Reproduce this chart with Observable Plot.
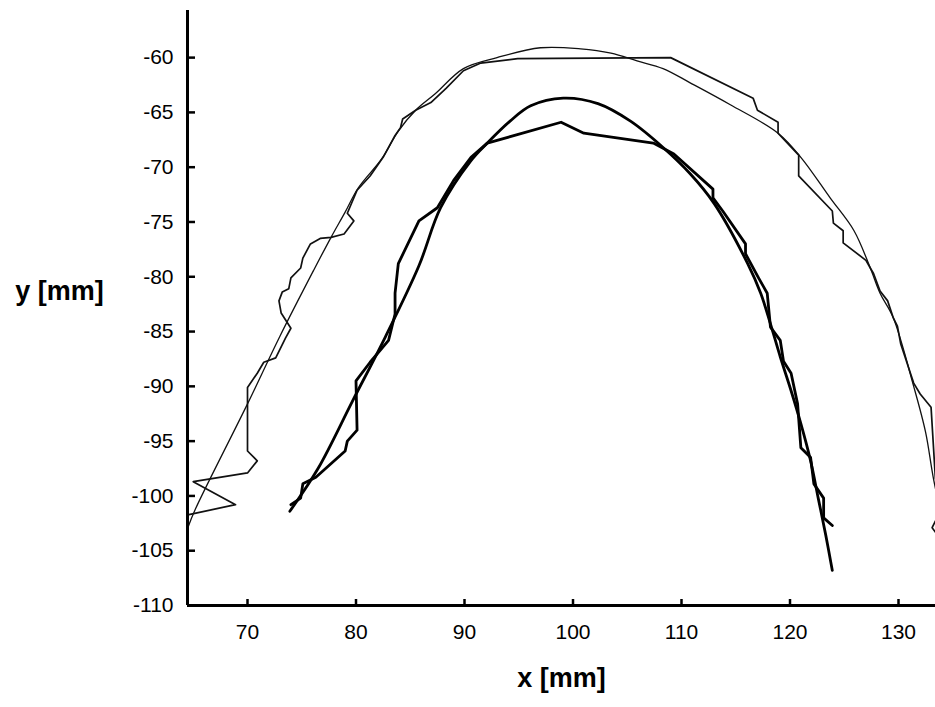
<!DOCTYPE html>
<html>
<head>
<meta charset="utf-8">
<script src="https://cdn.jsdelivr.net/npm/d3@7"></script>
<script src="https://cdn.jsdelivr.net/npm/@observablehq/plot@0.6"></script>
<style>
  html, body { margin: 0; padding: 0; background: #fff; }
  #chart svg { display: block; }
</style>
</head>
<body>
<div id="chart"></div>
<script>
// Axis ticks and extents (mm)
const xTicks = [70, 80, 90, 100, 110, 120, 130];
const yTicks = [-60, -65, -70, -75, -80, -85, -90, -95, -100, -105, -110];
const xDomain = [64.47, 133.41];
const yDomain = [-110, -55.7];
const xLabel = "x [mm]";
const yLabel = "y [mm]";

// Outer arch: fitted curve (thin, smooth)
const outerFit = [
  [64.5,-102.9],[65.2,-101.2],[70.0,-91.6],[73.0,-85.4],[76.1,-79.4],[77.7,-76.4],
  [79.0,-74.1],[80.2,-71.9],[82.4,-69.2],[83.9,-66.7],[85.5,-64.8],[87.3,-63.3],
  [89.9,-61.0],[93.0,-60.0],[97.0,-59.1],[100.7,-59.2],[103.5,-59.6],[105.9,-60.3],
  [108.3,-61.0],[110.8,-62.3],[114.5,-64.3],[118.9,-66.9],[121.0,-69.1],[123.7,-72.8],
  [125.9,-75.8],[127.4,-79.2],[128.3,-81.5],[129.5,-83.7],[131.4,-90.0],[132.5,-94.2],
  [133.2,-98.3],[134.2,-103.0]
];

// Outer arch: measured trajectory (jagged)
const outerMeasured = [
  [64.6,-101.7],[68.9,-100.8],[65.0,-98.7],[70.0,-97.9],[70.9,-96.8],[70.0,-95.9],
  [70.0,-90.1],[70.9,-88.8],[71.5,-87.8],[72.6,-87.4],[73.5,-85.6],[74.0,-84.7],
  [73.1,-83.3],[72.9,-82.2],[73.2,-81.4],[73.8,-81.1],[74.0,-80.1],[74.9,-79.2],
  [75.1,-78.3],[75.8,-77.0],[76.7,-76.5],[77.7,-76.4],[78.9,-76.1],[79.8,-74.9],
  [79.2,-74.2],[80.1,-72.1],[81.3,-70.8],[82.5,-69.1],[83.6,-67.1],[84.1,-66.4],
  [84.3,-65.6],[85.5,-64.8],[86.9,-64.1],[88.3,-62.8],[89.9,-61.2],[91.5,-60.5],
  [94.9,-60.1],[109.0,-60.0],[116.6,-63.7],[117.0,-64.8],[118.9,-65.9],[118.9,-66.9],
  [120.8,-68.9],[120.8,-70.8],[123.9,-74.0],[124.0,-75.1],[124.9,-75.8],[124.9,-76.9],
  [127.0,-78.5],[127.4,-79.2],[127.7,-79.7],[128.3,-81.3],[129.0,-82.2],[129.5,-83.7],
  [129.9,-84.5],[130.2,-86.1],[131.1,-88.8],[131.4,-89.7],[132.0,-90.7],[133.0,-91.9],
  [133.4,-98.4],[134.3,-100.5],[133.1,-102.9],[134.3,-104.5]
];

// Inner arch: fitted curve (thick, smooth)
const innerFit = [
  [73.9,-101.4],[76.5,-97.5],[79.7,-91.3],[82.7,-85.5],[85.8,-79.0],[87.8,-73.7],
  [90.6,-69.4],[92.1,-67.8],[94.2,-65.8],[96.1,-64.4],[99.1,-63.7],[102.3,-64.2],
  [105.3,-65.8],[108.3,-68.2],[110.8,-70.6],[113.0,-73.3],[116.1,-78.8],[117.3,-81.5],
  [118.2,-84.3],[119.1,-87.3],[120.1,-90.4],[121.0,-93.4],[121.9,-96.8],[122.6,-100.2],
  [123.3,-103.6],[123.9,-106.8]
];

// Inner arch: measured trajectory (thick, jagged)
const innerMeasured = [
  [74.0,-100.8],[74.9,-100.2],[75.1,-98.9],[76.3,-98.3],[79.0,-95.9],[79.2,-95.0],
  [80.1,-94.0],[80.0,-89.5],[81.3,-87.8],[83.0,-85.8],[83.6,-83.4],[83.6,-81.5],
  [83.9,-78.8],[85.8,-74.9],[87.5,-73.7],[89.0,-71.2],[90.6,-69.1],[92.1,-67.8],
  [98.9,-65.9],[101.0,-66.9],[107.4,-67.8],[109.3,-68.8],[112.9,-72.0],[112.9,-72.8],
  [113.8,-74.0],[115.9,-77.0],[115.9,-77.9],[117.1,-80.1],[117.9,-81.5],[118.2,-84.6],
  [119.1,-85.8],[119.4,-87.7],[120.1,-88.8],[120.7,-91.6],[121.0,-95.6],[121.9,-96.5],
  [122.2,-98.9],[123.1,-100.2],[123.1,-102.0],[123.9,-102.7]
];

const font = "'Liberation Sans', Arial, Helvetica, sans-serif";
const px = d => d[0], py = d => d[1];
const W = 935, H = 707, ML = 187, MR = 0, MT = 10, MB = 102;
// inward tick lengths, converted from pixels to data units
const yTickLen = 8 * (xDomain[1] - xDomain[0]) / (W - ML - MR);
const xTickLen = 6 * (yDomain[1] - yDomain[0]) / (H - MT - MB);

const chart = Plot.plot({
  width: W,
  height: H,
  marginLeft: ML,
  marginRight: MR,
  marginTop: MT,
  marginBottom: MB,
  style: { fontFamily: font, fontSize: "21px", background: "#fff", color: "#000", overflow: "visible" },
  x: { domain: xDomain, label: null },
  y: { domain: yDomain, label: null },
  marks: [
    Plot.line(outerFit, { x: px, y: py, stroke: "#111", strokeWidth: 1.3, curve: "catmull-rom", clip: true }),
    Plot.line(outerMeasured, { x: px, y: py, stroke: "#111", strokeWidth: 1.7, strokeLinejoin: "round", clip: true }),
    Plot.line(innerFit, { x: px, y: py, stroke: "#000", strokeWidth: 2.8, curve: "catmull-rom", strokeLinecap: "round", clip: true }),
    Plot.line(innerMeasured, { x: px, y: py, stroke: "#000", strokeWidth: 2.8, strokeLinejoin: "round", strokeLinecap: "round", clip: true }),
    // tick labels
    Plot.axisX(xTicks, { anchor: "bottom", tickSize: 0, tickPadding: 19, tickFormat: d => String(d), label: null, fontSize: 21 }),
    Plot.axisY(yTicks, { anchor: "left", tickSize: 0, tickPadding: 14, tickFormat: d => String(d), label: null, fontSize: 21 }),
    // inward ticks
    Plot.ruleY(yTicks, { y: d => d, x1: () => xDomain[0], x2: () => xDomain[0] + yTickLen, stroke: "#000", strokeWidth: 2.5 }),
    Plot.ruleX(xTicks, { x: d => d, y1: () => yDomain[0], y2: () => yDomain[0] + xTickLen, stroke: "#000", strokeWidth: 2.5 }),
    // axis lines
    Plot.ruleX([xDomain[0]], { stroke: "#000", strokeWidth: 3 }),
    Plot.ruleY([yDomain[0]], { stroke: "#000", strokeWidth: 3 }),
    // axis titles
    Plot.text([yLabel], { text: d => d, frameAnchor: "left", dx: -128, dy: -17, fontSize: 27, fontWeight: "bold", textAnchor: "middle", fill: "#000" }),
    Plot.text([xLabel], { text: d => d, frameAnchor: "bottom", dy: 81, fontSize: 27, fontWeight: "bold", textAnchor: "middle", fill: "#000" })
  ]
});

document.getElementById("chart").appendChild(chart);
</script>
</body>
</html>
